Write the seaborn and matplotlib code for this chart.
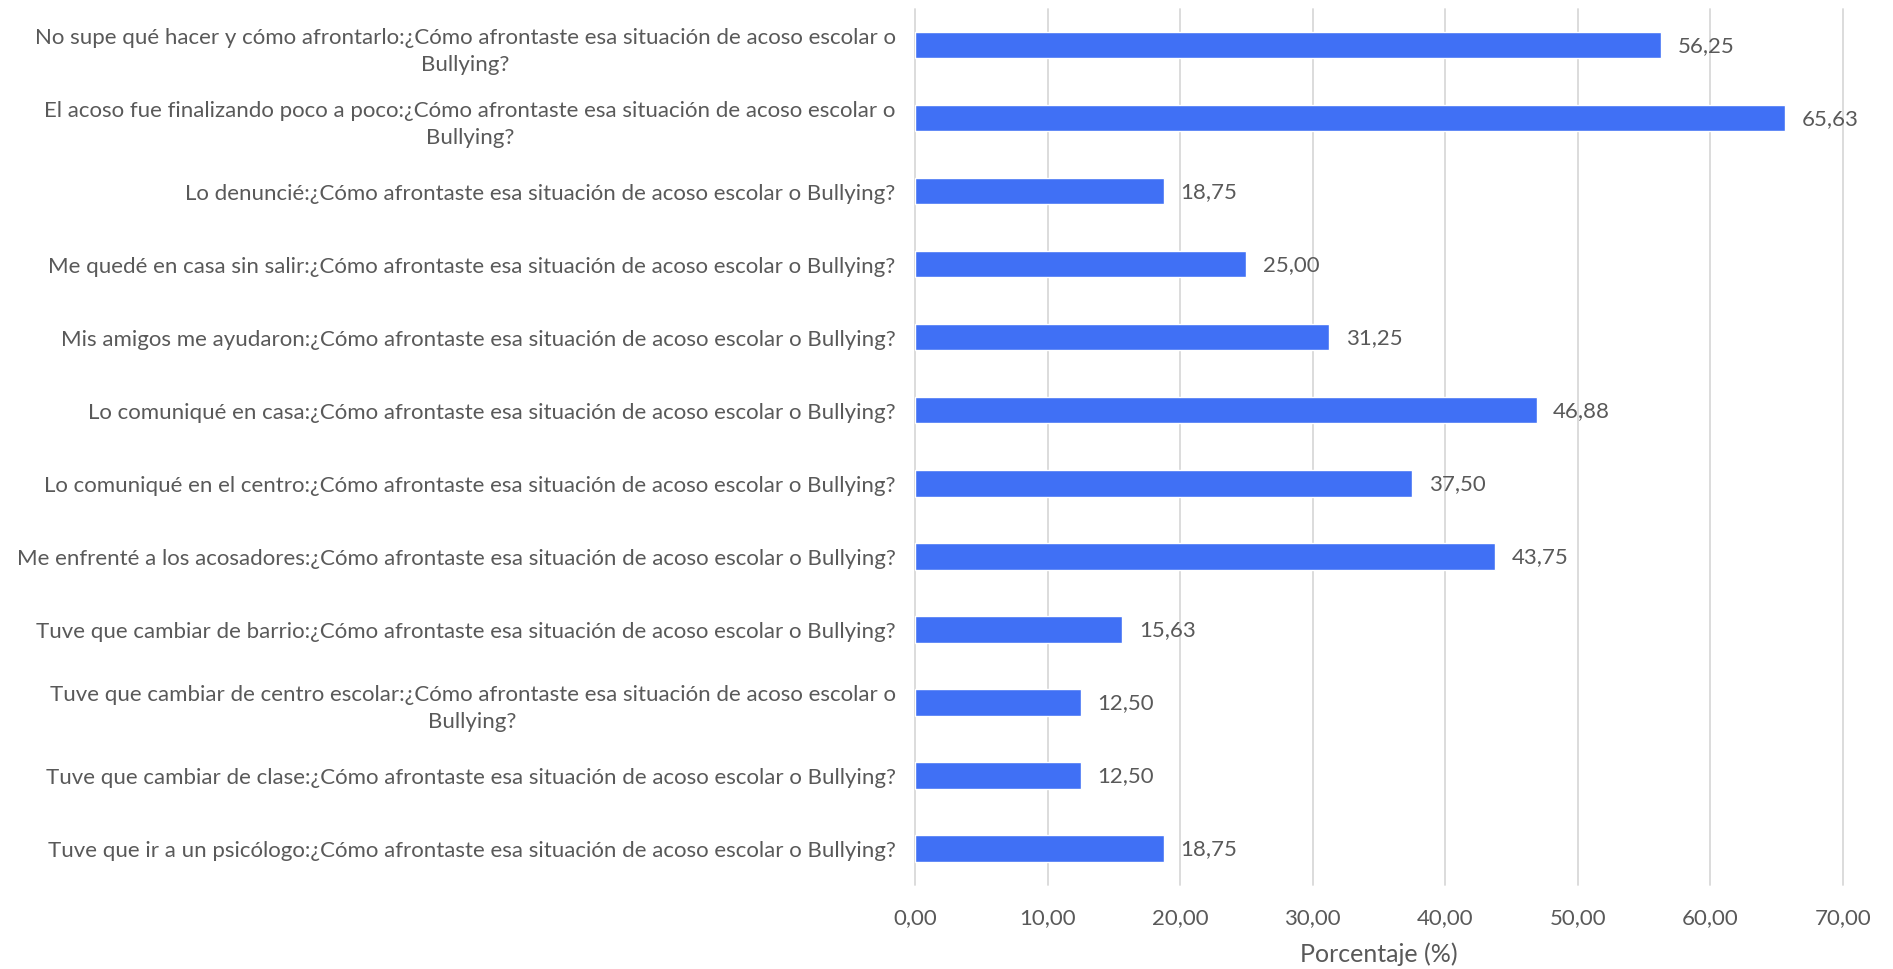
import matplotlib
matplotlib.use("Agg")
import matplotlib.pyplot as plt
import seaborn as sns
import pandas as pd
from matplotlib.ticker import FuncFormatter

Q = "¿Cómo afrontaste esa situación de acoso escolar o Bullying?"
CATEGORIES = [
    "No supe qué hacer y cómo afrontarlo:¿Cómo afrontaste esa situación de acoso escolar o\nBullying?",
    "El acoso fue finalizando poco a poco:¿Cómo afrontaste esa situación de acoso escolar o\nBullying?",
    "Lo denuncié:" + Q,
    "Me quedé en casa sin salir:" + Q,
    "Mis amigos me ayudaron:" + Q,
    "Lo comuniqué en casa:" + Q,
    "Lo comuniqué en el centro:" + Q,
    "Me enfrenté a los acosadores:" + Q,
    "Tuve que cambiar de barrio:" + Q,
    "Tuve que cambiar de centro escolar:¿Cómo afrontaste esa situación de acoso escolar o\nBullying?",
    "Tuve que cambiar de clase:" + Q,
    "Tuve que ir a un psicólogo:" + Q,
]
VALUES = [56.25, 65.63, 18.75, 25.00, 31.25, 46.88, 37.50, 43.75, 15.63, 12.50, 12.50, 18.75]
X_TICKS = [0, 10, 20, 30, 40, 50, 60, 70]

TEXT = "#595959"
BAR = "#4070F5"

sns.set_theme(style="white")
plt.rcParams["font.family"] = ["Lato", "DejaVu Sans"]

df = pd.DataFrame({"cat": CATEGORIES, "val": VALUES})

fig = plt.figure(figsize=(18.93, 9.70), dpi=100)
ax = fig.add_axes([0.4834, 0.0866, 0.4902, 0.9034])
sns.barplot(data=df, x="val", y="cat", color=BAR, width=0.36, saturation=1, ax=ax, zorder=3)

ax.set_xlim(0, 70)
ax.set_ylim(len(CATEGORIES) - 0.5, -0.5)
ax.set_xticks(X_TICKS)
ax.xaxis.set_major_formatter(FuncFormatter(lambda v, p: f"{v:.2f}".replace(".", ",")))
ax.grid(axis="x", color="#d9d9d9", linewidth=1.3, zorder=0, clip_on=False)
for line in ax.get_xgridlines():
    line.set_clip_on(False)
for s in ax.spines.values():
    s.set_visible(False)
ax.tick_params(axis="both", length=0, labelsize=16, colors=TEXT)
ax.tick_params(axis="x", pad=16)
ax.tick_params(axis="y", pad=14)
for lbl in ax.get_yticklabels():
    lbl.set_multialignment("center")
    lbl.set_linespacing(1.4)

for i, v in enumerate(VALUES):
    ax.annotate(f"{v:.2f}".replace(".", ","), xy=(v, i), xytext=(12, 0),
                textcoords="offset points", va="center", ha="left",
                fontsize=16, color=TEXT)

ax.set_ylabel("")
ax.set_xlabel("Porcentaje (%)", fontsize=18, color=TEXT, labelpad=10)

fig.savefig("out.png", dpi=100)
